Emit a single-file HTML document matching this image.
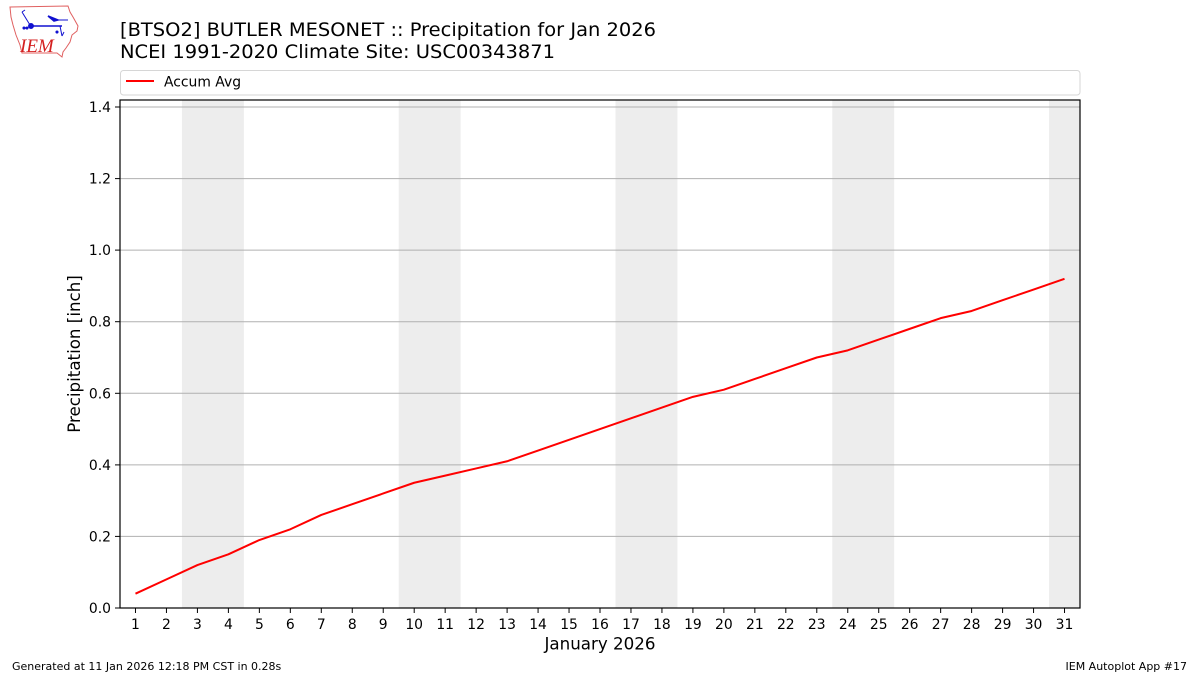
<!DOCTYPE html>
<html>
<head>
<meta charset="utf-8">
<style>
  html,body{margin:0;padding:0;background:#fff;}
  svg{display:block;}
  text{font-family:"DejaVu Sans","Liberation Sans",sans-serif;fill:#000;}
</style>
</head>
<body>
<svg width="1200" height="675" viewBox="0 0 1200 675" xmlns="http://www.w3.org/2000/svg">
  <rect x="0" y="0" width="1200" height="675" fill="#fff"/>

  <!-- Logo -->
  <g>
    <path d="M10,7 L68,6 L70,12 L73,17 L78,26 L77,31 L72,35 L70,42 L66,48 L63,52 L62,57 L57,53 L22,53 L20,45 L16,35 L13,25 L11,17 Z" fill="none" stroke="#e06060" stroke-width="1"/>
    <text x="20" y="52" style="font-family:'Liberation Serif',serif;font-style:italic;font-size:19px;fill:#d42020;">IEM</text>
    <g stroke="#1010d0" fill="#1010d0" stroke-width="1.5">
      <line x1="31" y1="26" x2="62" y2="26"/>
      <circle cx="31" cy="26" r="2.2"/>
      <line x1="22" y1="12" x2="30" y2="25" stroke-width="1"/>
      <line x1="22" y1="12" x2="25" y2="10" stroke-width="1"/>
      <path d="M48,16 L58,20 L54,21 Z"/>
      <line x1="58" y1="20" x2="68" y2="20" stroke-width="1"/>
      <line x1="60" y1="26" x2="62" y2="36" stroke-width="1"/>
      <line x1="62" y1="36" x2="64" y2="32" stroke-width="1"/>
      <circle cx="24" cy="28" r="0.8"/>
      <circle cx="27" cy="28" r="0.8"/>
      <circle cx="57" cy="32" r="0.8"/>
    </g>
  </g>

  <!-- Title -->
  <text x="120" y="36" style="font-size:19px;" textLength="536" lengthAdjust="spacingAndGlyphs">[BTSO2] BUTLER MESONET :: Precipitation for Jan 2026</text>
  <text x="120" y="58" style="font-size:19px;" textLength="435" lengthAdjust="spacingAndGlyphs">NCEI 1991-2020 Climate Site: USC00343871</text>

  <!-- Legend -->
  <rect x="120.5" y="70.5" width="959.5" height="24.5" rx="3" ry="3" fill="#fff" stroke="#d6d6d6" stroke-width="1"/>
  <line x1="126" y1="81" x2="154" y2="81" stroke="#ff0000" stroke-width="2"/>
  <text x="164" y="86.5" style="font-size:13.9px;">Accum Avg</text>

  <!-- Weekend shading -->
  <g fill="#ededed">
    <rect x="181.94" y="100" width="61.94" height="508"/>
    <rect x="398.71" y="100" width="61.94" height="508"/>
    <rect x="615.48" y="100" width="61.94" height="508"/>
    <rect x="832.26" y="100" width="61.94" height="508"/>
    <rect x="1049.03" y="100" width="30.97" height="508"/>
  </g>

  <!-- Grid lines -->
  <g stroke="#b0b0b0" stroke-width="1">
    <line x1="120" y1="536.4" x2="1080" y2="536.4"/>
    <line x1="120" y1="464.9" x2="1080" y2="464.9"/>
    <line x1="120" y1="393.3" x2="1080" y2="393.3"/>
    <line x1="120" y1="321.7" x2="1080" y2="321.7"/>
    <line x1="120" y1="250.1" x2="1080" y2="250.1"/>
    <line x1="120" y1="178.6" x2="1080" y2="178.6"/>
    <line x1="120" y1="107.0" x2="1080" y2="107.0"/>
  </g>

  <!-- Data line -->
  <polyline fill="none" stroke="#ff0000" stroke-width="2" stroke-linejoin="round" points="
    135.48,593.69 166.45,579.37 197.42,565.06 228.39,554.32 259.36,540.01 290.32,529.27 321.29,514.96 352.26,504.22
    383.23,493.48 414.2,482.75 445.16,475.59 476.13,468.43 507.1,461.28 538.07,450.54 569.04,439.80 600.0,429.07
    630.97,418.33 661.94,407.60 692.91,396.86 723.88,389.70 754.84,378.97 785.81,368.23 816.78,357.50 847.75,350.34
    878.72,339.61 909.68,328.87 940.65,318.14 971.62,310.98 1002.59,300.24 1033.56,289.51 1064.52,278.77"/>

  <!-- Axes frame -->
  <rect x="120" y="100" width="960" height="508" fill="none" stroke="#000" stroke-width="1.2"/>

  <!-- Y ticks -->
  <g stroke="#000" stroke-width="1">
    <line x1="115" y1="608" x2="120" y2="608"/>
    <line x1="115" y1="536.4" x2="120" y2="536.4"/>
    <line x1="115" y1="464.9" x2="120" y2="464.9"/>
    <line x1="115" y1="393.3" x2="120" y2="393.3"/>
    <line x1="115" y1="321.7" x2="120" y2="321.7"/>
    <line x1="115" y1="250.1" x2="120" y2="250.1"/>
    <line x1="115" y1="178.6" x2="120" y2="178.6"/>
    <line x1="115" y1="107.0" x2="120" y2="107.0"/>
  </g>
  <g style="font-size:13.9px;" text-anchor="end">
    <text x="111" y="613">0.0</text>
    <text x="111" y="541.4">0.2</text>
    <text x="111" y="469.9">0.4</text>
    <text x="111" y="398.3">0.6</text>
    <text x="111" y="326.7">0.8</text>
    <text x="111" y="255.1">1.0</text>
    <text x="111" y="183.6">1.2</text>
    <text x="111" y="112.0">1.4</text>
  </g>

  <!-- X ticks -->
  <g stroke="#000" stroke-width="1">
    <line x1="135.48" y1="608" x2="135.48" y2="613"/>
    <line x1="166.45" y1="608" x2="166.45" y2="613"/>
    <line x1="197.42" y1="608" x2="197.42" y2="613"/>
    <line x1="228.39" y1="608" x2="228.39" y2="613"/>
    <line x1="259.36" y1="608" x2="259.36" y2="613"/>
    <line x1="290.32" y1="608" x2="290.32" y2="613"/>
    <line x1="321.29" y1="608" x2="321.29" y2="613"/>
    <line x1="352.26" y1="608" x2="352.26" y2="613"/>
    <line x1="383.23" y1="608" x2="383.23" y2="613"/>
    <line x1="414.2" y1="608" x2="414.2" y2="613"/>
    <line x1="445.16" y1="608" x2="445.16" y2="613"/>
    <line x1="476.13" y1="608" x2="476.13" y2="613"/>
    <line x1="507.1" y1="608" x2="507.1" y2="613"/>
    <line x1="538.07" y1="608" x2="538.07" y2="613"/>
    <line x1="569.04" y1="608" x2="569.04" y2="613"/>
    <line x1="600.0" y1="608" x2="600.0" y2="613"/>
    <line x1="630.97" y1="608" x2="630.97" y2="613"/>
    <line x1="661.94" y1="608" x2="661.94" y2="613"/>
    <line x1="692.91" y1="608" x2="692.91" y2="613"/>
    <line x1="723.88" y1="608" x2="723.88" y2="613"/>
    <line x1="754.84" y1="608" x2="754.84" y2="613"/>
    <line x1="785.81" y1="608" x2="785.81" y2="613"/>
    <line x1="816.78" y1="608" x2="816.78" y2="613"/>
    <line x1="847.75" y1="608" x2="847.75" y2="613"/>
    <line x1="878.72" y1="608" x2="878.72" y2="613"/>
    <line x1="909.68" y1="608" x2="909.68" y2="613"/>
    <line x1="940.65" y1="608" x2="940.65" y2="613"/>
    <line x1="971.62" y1="608" x2="971.62" y2="613"/>
    <line x1="1002.59" y1="608" x2="1002.59" y2="613"/>
    <line x1="1033.56" y1="608" x2="1033.56" y2="613"/>
    <line x1="1064.52" y1="608" x2="1064.52" y2="613"/>
  </g>
  <g style="font-size:13.9px;" text-anchor="middle">
    <text x="135.48" y="629">1</text>
    <text x="166.45" y="629">2</text>
    <text x="197.42" y="629">3</text>
    <text x="228.39" y="629">4</text>
    <text x="259.36" y="629">5</text>
    <text x="290.32" y="629">6</text>
    <text x="321.29" y="629">7</text>
    <text x="352.26" y="629">8</text>
    <text x="383.23" y="629">9</text>
    <text x="414.2" y="629">10</text>
    <text x="445.16" y="629">11</text>
    <text x="476.13" y="629">12</text>
    <text x="507.1" y="629">13</text>
    <text x="538.07" y="629">14</text>
    <text x="569.04" y="629">15</text>
    <text x="600.0" y="629">16</text>
    <text x="630.97" y="629">17</text>
    <text x="661.94" y="629">18</text>
    <text x="692.91" y="629">19</text>
    <text x="723.88" y="629">20</text>
    <text x="754.84" y="629">21</text>
    <text x="785.81" y="629">22</text>
    <text x="816.78" y="629">23</text>
    <text x="847.75" y="629">24</text>
    <text x="878.72" y="629">25</text>
    <text x="909.68" y="629">26</text>
    <text x="940.65" y="629">27</text>
    <text x="971.62" y="629">28</text>
    <text x="1002.59" y="629">29</text>
    <text x="1033.56" y="629">30</text>
    <text x="1064.52" y="629">31</text>
  </g>

  <!-- Axis labels -->
  <text x="600" y="649.5" text-anchor="middle" style="font-size:16.7px;">January 2026</text>
  <text transform="translate(80,354) rotate(-90)" text-anchor="middle" style="font-size:16.7px;">Precipitation [inch]</text>

  <!-- Footer -->
  <text x="12" y="670" style="font-size:11px;">Generated at 11 Jan 2026 12:18 PM CST in 0.28s</text>
  <text x="1187" y="670" text-anchor="end" style="font-size:11px;">IEM Autoplot App #17</text>
</svg>
</body>
</html>
